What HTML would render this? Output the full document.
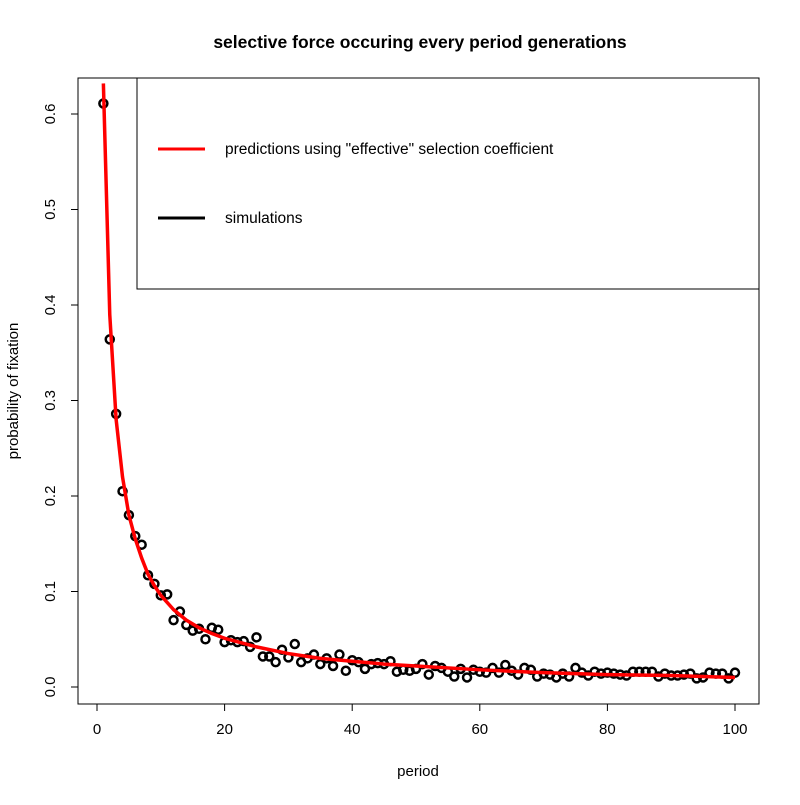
<!DOCTYPE html>
<html><head><meta charset="utf-8"><style>
body{margin:0;background:#fff}
svg text{font-family:"Liberation Sans",Arial,sans-serif}
</style></head><body>
<svg id="chart" width="800" height="800" xmlns="http://www.w3.org/2000/svg">
<text x="420" y="48" text-anchor="middle" font-size="17.5" font-weight="bold">selective force occuring every period generations</text>
<rect x="78" y="78" width="681" height="626" fill="none" stroke="#000" stroke-width="1"/>
<g id="xaxis"></g>
<g id="yaxis"></g>
<text x="418" y="776" text-anchor="middle" font-size="15">period</text>
<text transform="translate(18,391) rotate(-90)" text-anchor="middle" font-size="15">probability of fixation</text>
<g id="points"></g>
<g id="lines"></g>
<g>
<rect x="137" y="78" width="622" height="211" fill="#fff" stroke="#000" stroke-width="1"/>
<line x1="158" y1="149" x2="205" y2="149" stroke="#ff0000" stroke-width="3"/>
<text x="225" y="154" font-size="15.5">predictions using "effective" selection coefficient</text>
<line x1="158" y1="218" x2="205" y2="218" stroke="#000" stroke-width="3"/>
<text x="225" y="223" font-size="15.5">simulations</text>
</g>
</svg>
<script>
const simValues=[0.611,0.364,0.286,0.205,0.180,0.158,0.149,0.117,0.108,0.096,0.097,0.070,0.079,0.065,0.059,0.061,0.050,0.062,0.060,0.047,0.049,0.047,0.048,0.042,0.052,0.032,0.032,0.026,0.039,0.031,0.045,0.026,0.030,0.034,0.024,0.030,0.022,0.034,0.017,0.028,0.026,0.019,0.024,0.025,0.024,0.027,0.016,0.018,0.017,0.019,0.024,0.013,0.022,0.020,0.016,0.011,0.019,0.010,0.018,0.016,0.015,0.020,0.015,0.023,0.017,0.013,0.020,0.018,0.011,0.014,0.013,0.010,0.014,0.011,0.020,0.015,0.012,0.016,0.014,0.015,0.014,0.013,0.012,0.016,0.016,0.016,0.016,0.011,0.014,0.012,0.012,0.013,0.014,0.009,0.010,0.015,0.014,0.014,0.009,0.015];
const predPeriods=[1,2,3,4,5,6,7,8,9,10,12,14,16,18,20,25,30,35,40,45,50,60,70,80,90,100];
const predValues=[0.632,0.39,0.28,0.22,0.18,0.155,0.135,0.118,0.106,0.096,0.081,0.070,0.062,0.056,0.051,0.042,0.035,0.030,0.027,0.024,0.022,0.018,0.015,0.013,0.012,0.010];
const xTicks=[0,20,40,60,80,100];
const yTicks=[0.0,0.1,0.2,0.3,0.4,0.5,0.6];
const X=v=>97+v*6.38;
const Y=v=>687-v*955;
const NS="http://www.w3.org/2000/svg";
function mk(t,a,p){const e=document.createElementNS(NS,t);for(const k in a)e.setAttribute(k,a[k]);p.appendChild(e);return e;}
const xa=document.getElementById('xaxis'),ya=document.getElementById('yaxis');
mk('line',{x1:X(0),y1:704,x2:X(100),y2:704,stroke:'#000'},xa);
xTicks.forEach(t=>{
const l=mk('line',{x1:X(t),y1:704,x2:X(t),y2:711,stroke:'#000'},xa);


const tx=mk('text',{x:X(t),y:734,'text-anchor':'middle','font-size':15},xa);tx.textContent=t;


});
mk('line',{x1:78,y1:Y(0),x2:78,y2:Y(0.6),stroke:'#000'},ya);
yTicks.forEach(t=>{
const l=mk('line',{x1:71,y1:Y(t),x2:78,y2:Y(t),stroke:'#000'},ya);


const tx=mk('text',{transform:`translate(55,${Y(t)}) rotate(-90)`,'text-anchor':'middle','font-size':15},ya);tx.textContent=t.toFixed(1);


});
const pg=document.getElementById('points');
simValues.forEach((v,i)=>{
const c=mk('circle',{cx:X(i+1),cy:Y(v),r:4,fill:'none',stroke:'#000','stroke-width':2.5},pg);


});
const lg=document.getElementById('lines');
const pl=mk('polyline',{points:predPeriods.map((p,i)=>X(p)+','+Y(predValues[i])).join(' '),fill:'none',stroke:'#ff0000','stroke-width':3.5,'stroke-linejoin':'round'},lg);


</script>
</body></html>
